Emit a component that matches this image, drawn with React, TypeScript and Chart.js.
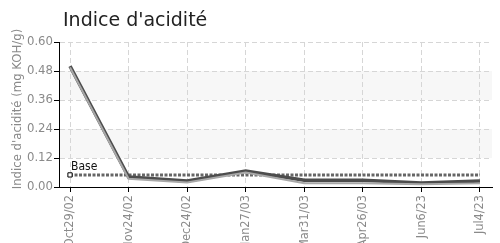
import React, { useEffect, useRef } from "react";
import { Chart, registerables } from "chart.js";

Chart.register(...registerables);

const categories = ["Oct29/02", "Nov24/02", "Dec24/02", "Jan27/03", "Mar31/03", "Apr26/03", "Jun6/23", "Jul4/23"];
const acidValues = [0.5, 0.041, 0.025, 0.066, 0.028, 0.028, 0.017, 0.025];
const shadowValues = [0.495, 0.034, 0.019, 0.06, 0.016, 0.016, 0.011, 0.015];
const baseValues = [0.05, 0.05, 0.05, 0.05, 0.05, 0.05, 0.05, 0.05];
const yMin = 0;
const yMax = 0.6;
const yStep = 0.12;
const bands = [
  [0.12, 0.24],
  [0.36, 0.48],
];
const chartTitle = "Indice d'acidité";
const yAxisTitle = "Indice d'acidité (mg KOH/g)";
const baseLabel = "Base";

const COND = "'DejaVu Sans Condensed', 'DejaVu Sans', sans-serif";

const decorPlugin = {
  id: "decor",
  beforeDraw(chart: any) {
    const { ctx, chartArea, scales } = chart;
    ctx.save();
    ctx.fillStyle = "#ffffff";
    ctx.fillRect(0, 0, chart.width, chart.height);
    ctx.fillStyle = "#f7f7f7";
    for (const [a, b] of bands) {
      const y1 = scales.y.getPixelForValue(b);
      const y2 = scales.y.getPixelForValue(a);
      ctx.fillRect(chartArea.left, y1, chartArea.right - chartArea.left, y2 - y1);
    }
    ctx.restore();
  },
  afterDatasetsDraw(chart: any) {
    const { ctx } = chart;
    const meta = chart.getDatasetMeta(2);
    const p = meta.data[0];
    if (p) {
      ctx.save();
      ctx.font = `12px ${COND}`;
      ctx.fillStyle = "#111";
      ctx.textAlign = "left";
      ctx.textBaseline = "alphabetic";
      ctx.fillText(baseLabel, p.x + 1, p.y - 5);
      ctx.restore();
    }
  },
  afterDraw(chart: any) {
    const { ctx } = chart;
    ctx.save();
    ctx.font = "19px 'DejaVu Sans', sans-serif";
    ctx.fillStyle = "#222";
    ctx.textAlign = "left";
    ctx.textBaseline = "alphabetic";
    ctx.fillText(chartTitle, 63, 26);
    ctx.restore();

    ctx.save();
    ctx.translate(18, 109);
    ctx.rotate(-Math.PI / 2);
    ctx.font = `13px ${COND}`;
    ctx.fillStyle = "#8a8a8a";
    ctx.textAlign = "center";
    ctx.textBaseline = "middle";
    ctx.fillText(yAxisTitle, 0, 0);
    ctx.restore();
  },
};

export default function App() {
  const ref = useRef<HTMLCanvasElement>(null);
  useEffect(() => {
    if (!ref.current) return;
    const toXY = (arr: number[]) => arr.map((v, i) => ({ x: i, y: v }));
    const chart = new Chart(ref.current, {
      type: "line",
      data: {
        datasets: [
          {
            data: toXY(shadowValues),
            borderColor: "#a8a8a8",
            borderWidth: 2,
            pointRadius: 0,
            tension: 0,
          },
          {
            data: toXY(acidValues),
            borderColor: "#4d4d4d",
            borderWidth: 3.5,
            pointRadius: 0,
            tension: 0,
          },
          {
            data: toXY(baseValues),
            borderColor: "#666666",
            borderWidth: 3,
            borderDash: [3, 1.5],
            pointStyle: "rect",
            pointRadius: baseValues.map((_, i) => (i === 0 ? 3 : 0)),
            pointBackgroundColor: "#ffffff",
            pointBorderColor: "#000000",
            pointBorderWidth: 1,
            tension: 0,
          },
        ],
      },
      options: {
        animation: false,
        responsive: true,
        maintainAspectRatio: false,
        layout: { padding: { top: 42, right: 8, left: 0, bottom: 0 } },
        plugins: {
          legend: { display: false },
          tooltip: { enabled: false },
          title: { display: false },
        },
        scales: {
          x: {
            type: "linear",
            min: -0.188,
            max: 7.205,
            afterBuildTicks: (scale: any) => {
              scale.ticks = categories.map((_, i) => ({ value: i }));
            },
            afterFit: (scale: any) => {
              scale.height = 56;
              scale.paddingLeft = 0;
              scale.paddingRight = 0;
            },
            ticks: {
              autoSkip: false,
              maxRotation: 90,
              minRotation: 90,
              padding: 3,
              color: "#8a8a8a",
              font: { family: COND, size: 12.6 },
              callback: (v: any) => categories[Math.round(Number(v))] ?? "",
            },
            grid: {
              color: "#d6d6d6",
              lineWidth: 1,
              tickLength: 5,
              tickColor: "#000000",
              tickBorderDash: [],
            },
            border: { display: true, color: "#000000", width: 1, dash: [5, 3] },
          },
          y: {
            min: yMin,
            max: yMax,
            afterFit: (scale: any) => {
              scale.width = 59;
            },
            ticks: {
              stepSize: yStep,
              padding: 1,
              color: "#8a8a8a",
              font: { family: COND, size: 13 },
              callback: (v: any) => Number(v).toFixed(2),
            },
            title: { display: false },
            grid: {
              color: "#d6d6d6",
              lineWidth: 1,
              tickLength: 5,
              tickColor: "#000000",
              tickBorderDash: [],
            },
            border: { display: true, color: "#000000", width: 1, dash: [5, 3] },
          },
        },
      },
      plugins: [decorPlugin],
    } as any);
    return () => chart.destroy();
  }, []);
  return (
    <div style={{ position: "fixed", left: 0, top: 0, width: 500, height: 243, background: "#fff" }}>
      <canvas ref={ref} />
    </div>
  );
}
